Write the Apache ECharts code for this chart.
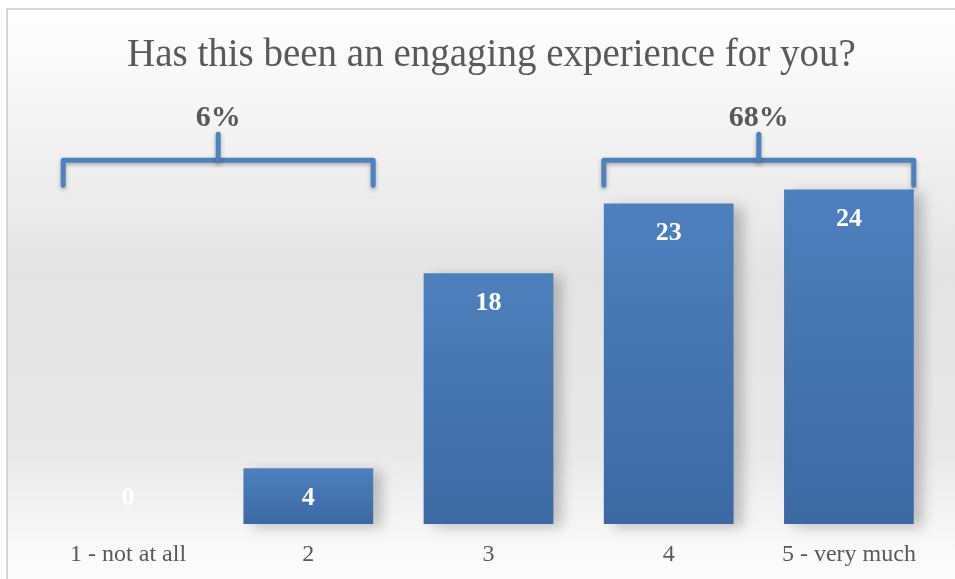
<!DOCTYPE html>
<html>
<head>
<meta charset="utf-8">
<script src="https://cdn.jsdelivr.net/npm/echarts@6/dist/echarts.min.js"></script>
<style>
  html, body { margin: 0; padding: 0; background: #ffffff; }
  #chart { width: 955px; height: 579px; }
</style>
</head>
<body>
<div id="chart"></div>
<script>
// Survey responses: "Has this been an engaging experience for you?"
const categories = ['1 - not at all', '2', '3', '4', '5 - very much'];
const responses = [0, 4, 18, 23, 24];

// Brackets that group answers with their share of all responses
const bracketStart = [0, 3];
const bracketEnd = [1, 4];
const bracketLabels = ['6%', '68%'];
const bracketLevel = 26.1;

const chart = echarts.init(document.getElementById('chart'));

const barColor = new echarts.graphic.LinearGradient(0, 0, 0, 1, [
  { offset: 0, color: '#4d80bd' },
  { offset: 1, color: '#3c69a2' }
]);

const barData = responses.map(function (v) {
  if (v === 0) {
    return { value: v, label: { position: 'top', distance: 13 } };
  }
  return v;
});

const bracketData = bracketStart.map(function (s, i) {
  return [s, bracketEnd[i], bracketLevel, bracketLabels[i]];
});

chart.setOption({
  backgroundColor: '#ffffff',
  graphic: [
    {
      type: 'rect',
      z: -10,
      shape: { x: 7, y: 9, width: 960, height: 590 },
      style: {
        fill: new echarts.graphic.LinearGradient(0, 0, 0, 1, [
          { offset: 0, color: '#fefefe' },
          { offset: 0.12, color: '#f8f8f8' },
          { offset: 0.45, color: '#e4e4e4' },
          { offset: 0.75, color: '#e9e9e9' },
          { offset: 0.93, color: '#fbfbfb' },
          { offset: 1, color: '#fdfdfd' }
        ]),
        stroke: '#d9d9d9',
        lineWidth: 2
      },
      silent: true
    }
  ],
  title: {
    text: 'Has this been an engaging experience for you?',
    left: 122,
    top: 31,
    textStyle: {
      fontFamily: 'Liberation Serif',
      fontWeight: 'normal',
      fontSize: 39,
      color: '#595959'
    }
  },
  grid: { left: 38, right: 16, top: 106, bottom: 55 },
  xAxis: {
    type: 'category',
    data: categories,
    axisLine: { show: false },
    axisTick: { show: false },
    axisLabel: {
      margin: 19,
      fontFamily: 'Liberation Serif',
      fontSize: 24,
      color: '#595959'
    }
  },
  yAxis: {
    type: 'value',
    min: 0,
    max: 30,
    show: false,
    splitLine: { show: false }
  },
  series: [
    {
      type: 'bar',
      data: barData,
      barWidth: '72%',
      itemStyle: {
        color: barColor,
        shadowColor: 'rgba(0,0,0,0.22)',
        shadowBlur: 12,
        shadowOffsetX: 9,
        shadowOffsetY: 3
      },
      label: {
        show: true,
        position: 'insideTop',
        distance: 17,
        fontFamily: 'Liberation Serif',
        fontWeight: 'bold',
        fontSize: 26,
        color: '#ffffff'
      }
    },
    {
      type: 'custom',
      data: bracketData,
      z: 5,
      renderItem: function (params, api) {
        const half = api.size([1, 0])[0] * 0.72 / 2;
        const p0 = api.coord([api.value(0), api.value(2)]);
        const p1 = api.coord([api.value(1), api.value(2)]);
        const x0 = p0[0] - half;
        const x1 = p1[0] + half;
        const y = p0[1];
        const mid = (x0 + x1) / 2;
        const lineStyle = {
          stroke: '#4f81bd',
          lineWidth: 5,
          lineCap: 'round',
          lineJoin: 'round',
          fill: null,
          shadowColor: 'rgba(0,0,0,0.3)',
          shadowBlur: 4,
          shadowOffsetY: 2
        };
        return {
          type: 'group',
          children: [
            {
              type: 'polyline',
              shape: { points: [[x0, y + 25], [x0, y], [x1, y], [x1, y + 25]] },
              style: lineStyle
            },
            {
              type: 'line',
              shape: { x1: mid, y1: y, x2: mid, y2: y - 26 },
              style: lineStyle
            },
            {
              type: 'text',
              x: mid,
              y: y - 27,
              style: {
                text: api.value(3),
                fontFamily: 'Liberation Serif',
                fontWeight: 'bold',
                fontSize: 30,
                fill: '#595959',
                align: 'center',
                verticalAlign: 'bottom'
              }
            }
          ]
        };
      }
    }
  ]
});
</script>
</body>
</html>
